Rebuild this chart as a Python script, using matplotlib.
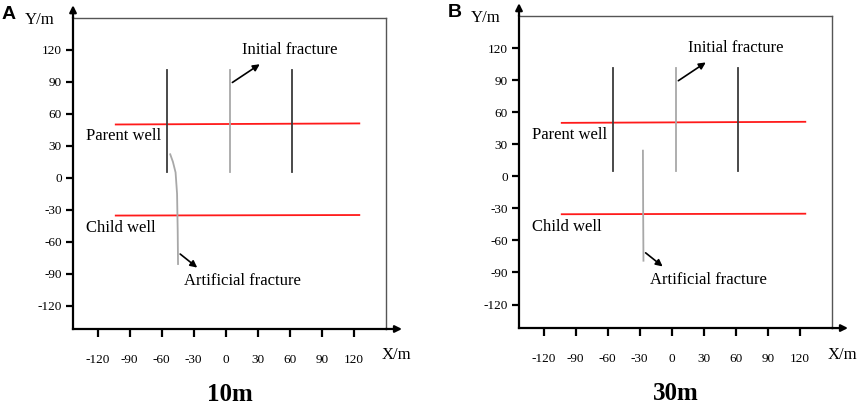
import matplotlib.pyplot as plt
from matplotlib import rcParams

rcParams['font.family'] = 'serif'
rcParams['font.serif'] = ['Liberation Serif', 'DejaVu Serif']
rcParams['axes.unicode_minus'] = False

# Axis ticks
tick_values = [-120, -90, -60, -30, 0, 30, 60, 90, 120]

# Wells (red lines)
well_x = [-103, 125]
parent_y = [50, 51]
child_y = [-35.5, -35]

# Initial fractures (vertical lines)
fracture_x = [-55, 4, 62]
fracture_y = [5, 101]
fracture_colors = ['#3c3c3c', '#a8a8a8', '#3c3c3c']

# Artificial fracture, spacing 10m
art_10_x = [-52, -49.5, -47, -45.6, -45, -44.7]
art_10_y = [22, 15, 5, -15, -50, -81]

# Artificial fracture, spacing 30m
art_30_x = [-27, -26.8, -26.5]
art_30_y = [24, -30, -79]

titles = ['10m', '30m']
letters = ['A', 'B']


def draw_panel(fig, rect, letter, title, art_x, art_y):
    ax = fig.add_axes(rect)
    ax.set_xlim(-143, 150)
    ax.set_ylim(-142, 150)

    # Wells
    ax.plot(well_x, parent_y, color='#ff1a1a', lw=1.3)
    ax.plot(well_x, child_y, color='#ff1a1a', lw=1.3)

    # Initial fractures
    for x, c in zip(fracture_x, fracture_colors):
        ax.plot([x, x], fracture_y, color=c, lw=1.3)

    # Artificial fracture
    ax.plot(art_x, art_y, color='#a8a8a8', lw=1.3)

    # Labels and arrows
    ax.text(-131, 39, 'Parent well', fontsize=12, va='center')
    ax.text(-131, -47, 'Child well', fontsize=12, va='center')
    ax.annotate('', xy=(34, 108), xytext=(4, 88),
                arrowprops=dict(arrowstyle='-|>', color='black', lw=1.2, mutation_scale=10))
    ax.text(15, 120, 'Initial fracture', fontsize=12, va='center')
    ax.annotate('', xy=(art_x[-1] + 20, -86), xytext=(art_x[-1], -70),
                arrowprops=dict(arrowstyle='-|>', color='black', lw=1.2, mutation_scale=10))
    ax.text(art_x[-1] + 6, -97, 'Artificial fracture', fontsize=12, va='center')

    # Spines
    for s in ['top', 'right']:
        ax.spines[s].set_color('#555555')
        ax.spines[s].set_linewidth(1.0)
    for s in ['left', 'bottom']:
        ax.spines[s].set_color('black')
        ax.spines[s].set_linewidth(1.6)

    # Axis arrows
    ax.annotate('', xy=(0, 1.05), xytext=(0, 0.99), xycoords='axes fraction',
                arrowprops=dict(arrowstyle='-|>', color='black', lw=1.6, mutation_scale=10))
    ax.annotate('', xy=(1.06, 0), xytext=(0.99, 0), xycoords='axes fraction',
                arrowprops=dict(arrowstyle='-|>', color='black', lw=1.6, mutation_scale=10))

    ax.set_xticks(tick_values)
    ax.set_yticks(tick_values)
    ax.tick_params(axis='x', direction='out', length=6, width=1.6, pad=12, labelsize=9.5)
    ax.tick_params(axis='y', direction='out', length=5, width=1.6, pad=3, labelsize=9.5)

    ax.text(-0.058, 0.992, 'Y/m', transform=ax.transAxes, fontsize=12, ha='right', va='center')
    ax.text(1.08, -0.085, 'X/m', transform=ax.transAxes, fontsize=12, ha='right', va='center')
    ax.text(0.5, -0.21, title, transform=ax.transAxes, fontsize=18, fontweight='bold',
            ha='center', va='center')
    ax.text(-0.228, 1.01, letter, transform=ax.transAxes, fontsize=14, fontweight='bold',
            family='Liberation Sans', ha='left', va='center')
    return ax


def main():
    fig = plt.figure(figsize=(8.58, 4.05), dpi=100)
    draw_panel(fig, [0.0851, 0.1877, 0.3648, 0.7679], letters[0], titles[0], art_10_x, art_10_y)
    draw_panel(fig, [0.6049, 0.1900, 0.3648, 0.7705], letters[1], titles[1], art_30_x, art_30_y)
    fig.savefig('out.png', dpi=100)


if __name__ == '__main__':
    main()
